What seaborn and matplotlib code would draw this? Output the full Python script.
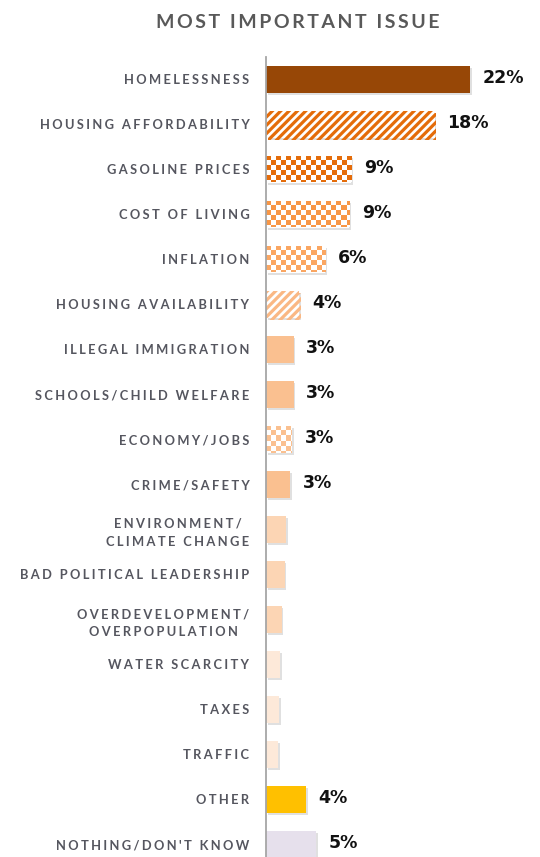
import numpy as np
import pandas as pd
import matplotlib
matplotlib.use("Agg")
import matplotlib.pyplot as plt
import matplotlib.colors as mcolors
import matplotlib.patheffects as pe
import seaborn as sns

# Survey results: most important issue (% of respondents)
issues = [
    "HOMELESSNESS", "HOUSING AFFORDABILITY", "GASOLINE PRICES", "COST OF LIVING",
    "INFLATION", "HOUSING AVAILABILITY", "ILLEGAL IMMIGRATION",
    "SCHOOLS/CHILD WELFARE", "ECONOMY/JOBS", "CRIME/SAFETY",
    "ENVIRONMENT/\nCLIMATE CHANGE", "BAD POLITICAL LEADERSHIP",
    "OVERDEVELOPMENT/\nOVERPOPULATION", "WATER SCARCITY", "TAXES", "TRAFFIC",
    "OTHER", "NOTHING/DON'T KNOW",
]
shares = [22.0, 18.2, 9.2, 9.0, 6.4, 3.6, 3.0, 3.0, 2.8, 2.6,
          2.2, 2.0, 1.7, 1.5, 1.4, 1.3, 4.3, 5.4]
fills = ["solid", "stripe", "checker", "checker", "checker", "stripe", "solid",
         "solid", "checker", "solid", "solid", "solid", "solid", "solid",
         "solid", "solid", "solid", "solid"]
colors = ["#974706", "#E46C0A", "#E46C0A", "#F79646", "#FAA662", "#FAB884",
          "#FAC090", "#FAC090", "#FAC090", "#FAC090", "#FCD5B4", "#FCD5B4",
          "#FCD5B4", "#FDE9D9", "#FDE9D9", "#FDE9D9", "#FFC000", "#E6E0EC"]
label_min = 2.5  # values below this are left unlabeled

df = pd.DataFrame({"issue": issues, "share": shares})

sns.set_theme(style="white")
plt.rcParams["font.family"] = ["Lato", "DejaVu Sans"]
plt.rcParams["hatch.linewidth"] = 2.3

W, H = 540, 857
fig = plt.figure(figsize=(W / 100, H / 100), dpi=100)
ax_left, ax_top = 266 / W, 1 - 56.5 / H
ax_right = 525.6 / W
ax = fig.add_axes([ax_left, 0.0, ax_right - ax_left, ax_top])

sns.barplot(data=df, x="share", y="issue", hue="issue", palette=colors,
            legend=False, width=0.6, orient="h", ax=ax, saturation=1)

n = len(issues)
ax.set_xlim(0, 28)
ax.set_ylim(-0.5 + (H - 56.5) / 45.0, -0.5)
ax.set_autoscale_on(False)

shadow = [pe.SimplePatchShadow(offset=(1.2, -1.5), shadow_rgbFace="#9a9a9a", alpha=0.3),
          pe.Normal()]


def checker_fill(ax, patch, color, cell_px=5.0):
    bb = ax.get_window_extent()
    x0l, x1l = ax.get_xlim()
    y0l, y1l = ax.get_ylim()
    ux = cell_px * (x1l - x0l) / bb.width
    uy = cell_px * abs(y1l - y0l) / bb.height
    x0, y0 = patch.get_x(), patch.get_y()
    w, h = patch.get_width(), patch.get_height()
    nx, ny = int(np.ceil(w / ux)), int(np.ceil(h / uy))
    img = np.ones((ny, nx, 4))
    mask = np.add.outer(np.arange(ny), np.arange(nx)) % 2 == 0
    img[mask] = mcolors.to_rgba(color)
    im = ax.imshow(img, extent=(x0, x0 + nx * ux, y0 + ny * uy, y0),
                   aspect="auto", interpolation="nearest",
                   zorder=patch.get_zorder() + 0.1)
    im.set_clip_path(patch)


for patch in list(ax.patches):
    i = int(round(patch.get_y() + patch.get_height() / 2))
    kind, col = fills[i], colors[i]
    patch.set_linewidth(0)
    patch.set_path_effects(shadow)
    if kind == "stripe":
        patch.set_facecolor("white")
        patch.set_edgecolor(col)
        patch.set_hatch("////")
    elif kind == "checker":
        patch.set_facecolor("white")
        checker_fill(ax, patch, col)
    if shares[i] >= label_min:
        ax.annotate(f"{shares[i]:.0f}%", xy=(patch.get_width(), i),
                    xytext=(9, 1), textcoords="offset points",
                    ha="left", va="center", fontsize=12.5, fontweight="bold",
                    color="#111111", family=["DejaVu Sans"])


def spaced(s, gap="\u2009\u200a"):
    return "\n".join(gap.join(line) for line in s.split("\n"))


ax.set_yticks(range(n))
ax.set_yticklabels([spaced(s) for s in issues], fontsize=9.3, fontweight="bold",
                   color="#55565f")
for t in ax.get_yticklabels():
    t.set_multialignment("center")
    t.set_linespacing(1.55)
ax.tick_params(axis="y", length=0, pad=12)
ax.set_xticks([])
ax.set_xlabel("")
ax.set_ylabel("")
for s in ["top", "right", "bottom"]:
    ax.spines[s].set_visible(False)
ax.spines["left"].set_color("#a6a6a6")
ax.spines["left"].set_linewidth(1.3)

fig.text(298 / W, 1 - 22 / H, spaced("MOST IMPORTANT ISSUE", "\u2009"),
         ha="center", va="center", fontsize=14, fontweight="bold",
         color="#595959")

fig.savefig("out.png", dpi=100)
